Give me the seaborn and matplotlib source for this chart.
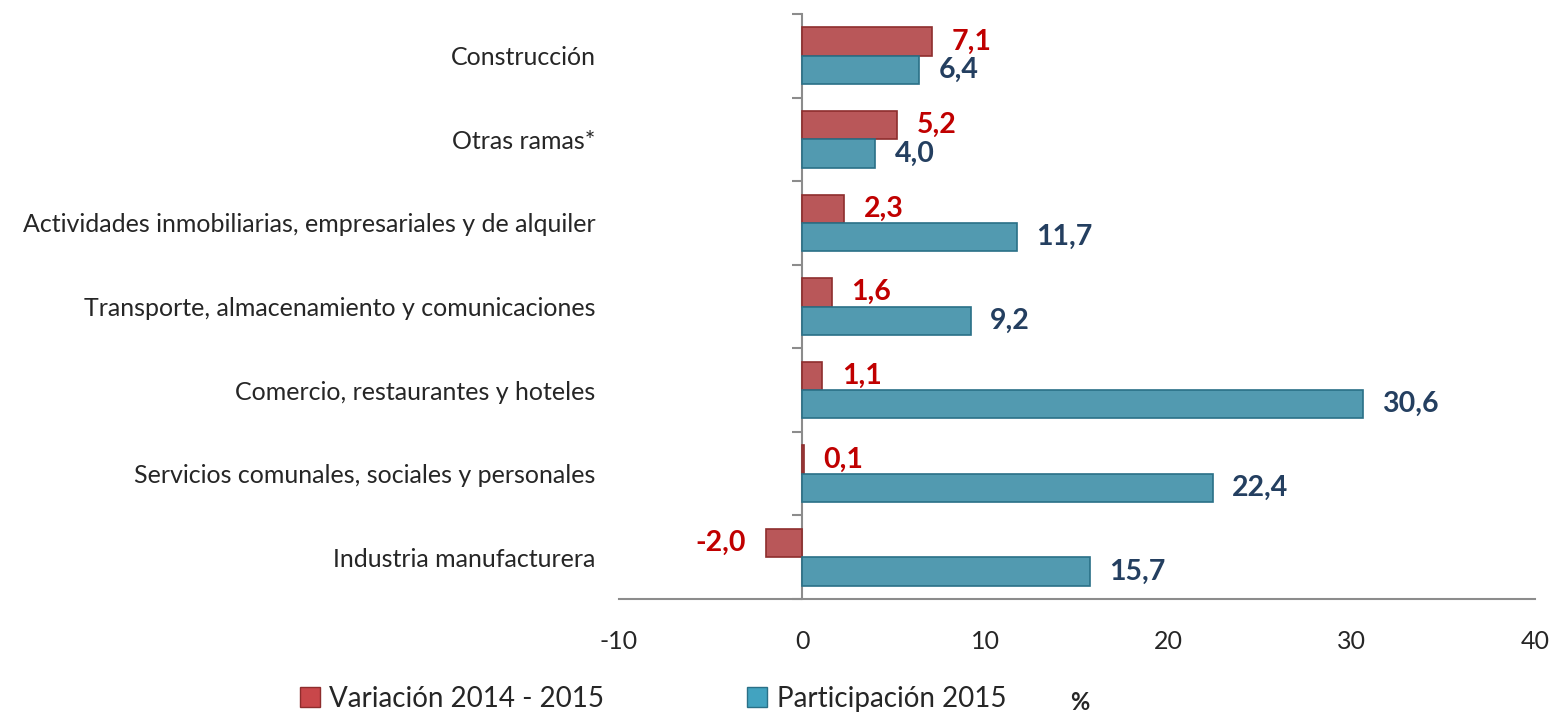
import numpy as np
import pandas as pd
import seaborn as sns
from matplotlib import pyplot as plt
from matplotlib.lines import Line2D

categorias = ['Construcción',
              'Otras ramas*',
              'Actividades inmobiliarias, empresariales y de alquiler',
              'Transporte, almacenamiento y comunicaciones',
              'Comercio, restaurantes y hoteles',
              'Servicios comunales, sociales y personales',
              'Industria manufacturera']
variacion = [7.1, 5.2, 2.3, 1.6, 1.1, 0.1, -2.0]
participacion = [6.4, 4.0, 11.7, 9.2, 30.6, 22.4, 15.7]
series = ['Variación 2014 - 2015', 'Participación 2015']

df = pd.DataFrame({'rama': categorias * 2,
                   'serie': [series[0]] * len(categorias) + [series[1]] * len(categorias),
                   'valor': variacion + participacion})

rojo, azul = '#C9474A', '#42A3C0'
rojo_borde, azul_borde = '#8E2D2D', '#2A7087'
gris = '#8C8C8C'

sns.set_style('white')
plt.rcParams['font.family'] = ['Lato', 'DejaVu Sans']
plt.rcParams['axes.unicode_minus'] = False

fig = plt.figure(figsize=(15.55, 7.15), dpi=100)
ax = fig.add_axes([619 / 1555, 1 - 599 / 715, (1535 - 619) / 1555, (599 - 14) / 715])

sns.barplot(data=df, y='rama', x='valor', hue='serie', orient='h',
            palette=[rojo, azul], width=0.68, ax=ax, legend=False,
            linewidth=1.2)
for cont, borde in zip(ax.containers, [rojo_borde, azul_borde]):
    for barra in cont:
        barra.set_edgecolor(borde)

# etiquetas de valor
for cont, vals, col in zip(ax.containers, [variacion, participacion], ['#C00000', '#243F60']):
    ax.bar_label(cont, labels=[f'{v:.1f}'.replace('.', ',') for v in vals],
                 padding=14, fontsize=20.5, fontweight='bold', color=col)

ax.set_xlim(-10, 40)
ax.set_xticks(np.arange(-10, 41, 10))
ax.set_xlabel('')
ax.set_ylabel('')
for s in ['top', 'right', 'left']:
    ax.spines[s].set_visible(False)
ax.spines['bottom'].set_color(gris)
ax.spines['bottom'].set_linewidth(1.5)
ax.tick_params(axis='x', length=8, width=1.5, color=gris, labelsize=18, pad=14)
ax.tick_params(axis='y', length=0, pad=17, labelsize=18)

# eje vertical en x = 0
eje0 = ax.secondary_yaxis(0, transform=ax.transData)
eje0.set_yticks(np.arange(-0.5, len(categorias), 1))
eje0.set_yticklabels([])
eje0.tick_params(length=7, width=1.5, color=gris)
eje0.spines['left'].set_color(gris)
eje0.spines['left'].set_linewidth(1.5)

handles = [Line2D([], [], marker='s', linestyle='', markersize=14,
                  markerfacecolor=c, markeredgecolor=b)
           for c, b in zip([rojo, azul], [rojo_borde, azul_borde])]
fig.legend(handles, series, loc='center left', bbox_to_anchor=(285 / 1555, 1 - 699 / 715),
           ncol=2, frameon=False, fontsize=20, handlelength=0.8, handletextpad=0.3,
           columnspacing=5.1, borderpad=0)
fig.text(1080 / 1555, 1 - 703 / 715, '%', fontsize=17, fontweight='bold',
         ha='center', va='center')

fig.savefig('out.png', dpi=100)
